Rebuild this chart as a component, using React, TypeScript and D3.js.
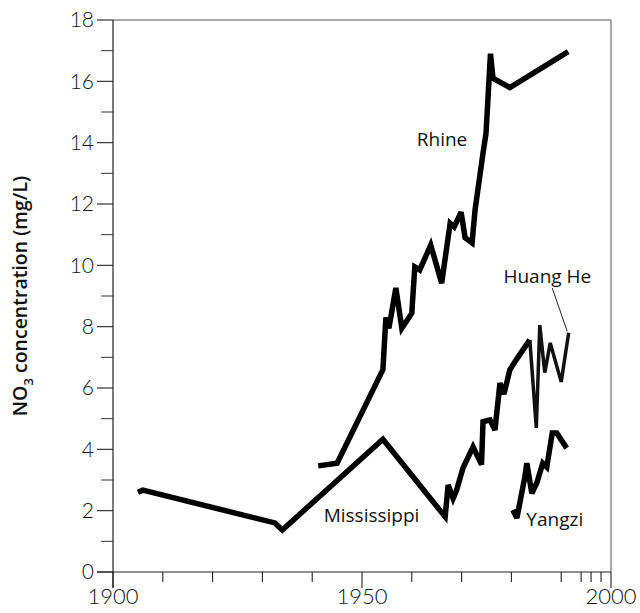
import React from "react";
import * as d3 from "d3";

// river nitrate series (year, mg/L)
const rhineYears = [1941.2, 1945, 1954.2, 1954.8, 1955.4, 1956.8, 1958, 1960, 1960.6, 1961.6, 1963.8, 1966, 1967.7, 1968.5, 1969.9, 1970.7, 1972.1, 1972.7, 1974.3, 1974.9, 1975.8, 1976.3, 1979.7, 1991.4];
const rhineValues = [3.46, 3.55, 6.6, 8.3, 7.95, 9.26, 7.95, 8.44, 9.95, 9.85, 10.66, 9.42, 11.37, 11.25, 11.73, 10.9, 10.73, 11.8, 13.66, 14.3, 16.9, 16.1, 15.8, 16.97];

const mississippiYears = [1905, 1906, 1932.5, 1934, 1954.2, 1966.7, 1967.3, 1968.3, 1969, 1970.3, 1972.3, 1974, 1974.3, 1975.7, 1976.7, 1977.7, 1978.5, 1979.7, 1981.3, 1983.7];
const mississippiValues = [2.6, 2.67, 1.6, 1.37, 4.33, 1.8, 2.84, 2.4, 2.67, 3.4, 4.08, 3.5, 4.9, 4.96, 4.63, 6.16, 5.8, 6.6, 7.0, 7.57];

const huangHeYears = [1983.7, 1985.0, 1985.7, 1986.7, 1987.8, 1990.0, 1991.5];
const huangHeValues = [7.57, 4.7, 8.05, 6.5, 7.47, 6.2, 7.8];

const yangziYears = [1980.3, 1981.1, 1982.7, 1983.1, 1984.1, 1985.1, 1986.3, 1987.1, 1988.2, 1989.1, 1991.1];
const yangziValues = [2.02, 1.76, 3.1, 3.55, 2.57, 2.9, 3.55, 3.42, 4.53, 4.53, 4.04];

const xTickLabels = [1900, 1950, 2000];
const xMinorTicks = [1910, 1920, 1930, 1940, 1960, 1970, 1980, 1990, 1994, 1996, 1998];
const yTickLabels = [0, 2, 4, 6, 8, 10, 12, 14, 16, 18];
const yMinorTicks = [1, 3, 5, 7, 9, 11, 13, 15, 17];

const W = 640, H = 613;
const margin = { top: 20, right: 29, bottom: 41, left: 113 };

export default function App() {
  const x = d3.scaleLinear().domain([1900, 2000]).range([margin.left, W - margin.right]);
  const y = d3.scaleLinear().domain([0, 18]).range([H - margin.bottom, margin.top]);

  const line = d3
    .line<[number, number]>()
    .x(d => x(d[0]))
    .y(d => y(d[1]));

  const zip = (a: number[], b: number[]) => a.map((v, i) => [v, b[i]] as [number, number]);

  const x0 = x(1900), x1 = x(2000), y0 = y(0), y1 = y(18);
  const tickFont = "Lato, 'Open Sans', sans-serif";
  const labelFont = "'Open Sans', 'Noto Sans', sans-serif";

  return (
    <svg width={W} height={H} style={{ position: "absolute", left: 0, top: 0, background: "#fff" }}>
      {/* frame */}
      <line x1={x0} x2={x1} y1={y1} y2={y1} stroke="#555" strokeWidth={1} />
      <line x1={x1} x2={x1} y1={y1} y2={y0} stroke="#555" strokeWidth={1} />
      <line x1={x0} x2={x0} y1={y1} y2={y0 + 16} stroke="#222" strokeWidth={1.2} />
      <line x1={x0 - 16} x2={x1} y1={y0} y2={y0} stroke="#222" strokeWidth={1.2} />

      {/* y ticks */}
      {yTickLabels.map(v => (
        <g key={"yt" + v}>
          <line x1={x0 - 16} x2={x0} y1={y(v)} y2={y(v)} stroke="#222" strokeWidth={1.1} />
          <text x={x0 - 19} y={y(v)} dy="0.35em" textAnchor="end" fontFamily={tickFont} fontWeight={300} fontSize={21} fill="#111">
            {v}
          </text>
        </g>
      ))}
      {yMinorTicks.map(v => (
        <line key={"ym" + v} x1={x0 - 12} x2={x0} y1={y(v)} y2={y(v)} stroke="#333" strokeWidth={1} />
      ))}

      {/* x ticks */}
      {xTickLabels.map(v => (
        <g key={"xt" + v}>
          <line x1={x(v)} x2={x(v)} y1={y0} y2={y0 + 16} stroke="#222" strokeWidth={1.1} />
          <text x={x(v)} y={y0 + 32} textAnchor="middle" fontFamily={tickFont} fontWeight={300} fontSize={22} fill="#111">
            {v}
          </text>
        </g>
      ))}
      {xMinorTicks.map(v => (
        <line key={"xm" + v} x1={x(v)} x2={x(v)} y1={y0} y2={y0 + 10} stroke="#222" strokeWidth={1.1} />
      ))}

      {/* y axis title */}
      <text
        transform={`translate(27,${(y0 + y1) / 2}) rotate(-90)`}
        textAnchor="middle"
        fontFamily={labelFont}
        fontWeight={600}
        fontSize={19.5}
        fill="#111"
      >
        NO<tspan fontSize={13} dy={6}>3</tspan>
        <tspan dy={-6}> concentration (mg/L)</tspan>
      </text>

      {/* series */}
      <path d={line(zip(mississippiYears, mississippiValues)) || ""} fill="none" stroke="#000" strokeWidth={5.5} strokeLinejoin="miter" strokeMiterlimit={3} />
      <path d={line(zip(rhineYears, rhineValues)) || ""} fill="none" stroke="#000" strokeWidth={5.5} strokeLinejoin="miter" strokeMiterlimit={3} />
      <path d={line(zip(huangHeYears, huangHeValues)) || ""} fill="none" stroke="#111" strokeWidth={3.5} strokeLinejoin="miter" strokeMiterlimit={3} />
      <path d={line(zip(yangziYears, yangziValues)) || ""} fill="none" stroke="#000" strokeWidth={5.5} strokeLinejoin="miter" strokeMiterlimit={3} />

      {/* labels */}
      <text x={x(1961)} y={y(13.9)} fontFamily={labelFont} fontSize={19} fill="#111">Rhine</text>
      <text x={x(1978.4)} y={y(9.42)} fontFamily={labelFont} fontSize={19} fill="#111">Huang He</text>
      <line x1={x(1988.2)} y1={y(9.26)} x2={x(1991.2)} y2={y(7.85)} stroke="#222" strokeWidth={1} />
      <text x={x(1942.3)} y={y(1.63)} fontFamily={labelFont} fontSize={19} fill="#111">Mississippi</text>
      <text x={x(1983.0)} y={y(1.5)} fontFamily={labelFont} fontSize={19} fill="#111">Yangzi</text>
    </svg>
  );
}
